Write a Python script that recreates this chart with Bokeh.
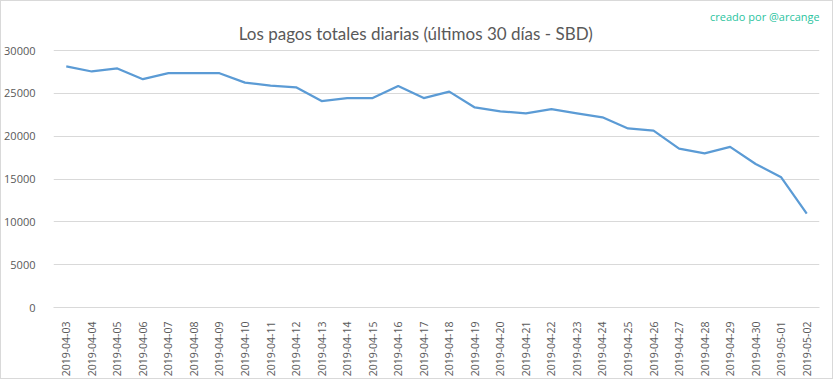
import math
from bokeh.plotting import figure
from bokeh.models import Range1d, FactorRange, FixedTicker, ColumnDataSource
from bokeh.core.properties import value
from bokeh.embed import file_html
from bokeh.resources import INLINE

dates = ["2019-04-03", "2019-04-04", "2019-04-05", "2019-04-06", "2019-04-07",
         "2019-04-08", "2019-04-09", "2019-04-10", "2019-04-11", "2019-04-12",
         "2019-04-13", "2019-04-14", "2019-04-15", "2019-04-16", "2019-04-17",
         "2019-04-18", "2019-04-19", "2019-04-20", "2019-04-21", "2019-04-22",
         "2019-04-23", "2019-04-24", "2019-04-25", "2019-04-26", "2019-04-27",
         "2019-04-28", "2019-04-29", "2019-04-30", "2019-05-01", "2019-05-02"]
payouts = [28150, 27550, 27900, 26650, 27350,
           27350, 27350, 26250, 25900, 25700,
           24100, 24450, 24450, 25850, 24450,
           25200, 23350, 22900, 22650, 23150,
           22650, 22200, 20900, 20650, 18550,
           18000, 18750, 16750, 15200, 10950]
y_ticks = [0, 5000, 10000, 15000, 20000, 25000, 30000]

title_text = "Los pagos totales diarias (últimos 30 días - SBD)"
credit_text = "creado por @arcange"

# layout (pixels): frame top, pixel row of the 30000 gridline, pixel row of 0
FRAME_TOP, TOP_TICK_PX, ZERO_PX, H = 2, 49, 306, 379
y_max = y_ticks[-1]
y_end = y_max * (ZERO_PX - FRAME_TOP) / (ZERO_PX - TOP_TICK_PX)

src = ColumnDataSource(dict(x=dates, y=payouts))

p = figure(width=833, height=H, output_backend="svg", toolbar_location=None,
           x_range=FactorRange(*dates, range_padding=0), y_range=Range1d(0, y_end),
           min_border_left=51, min_border_right=15, min_border_top=FRAME_TOP,
           min_border_bottom=H - ZERO_PX)
p.title = None
p.outline_line_color = None
p.background_fill_color = "white"
p.border_fill_color = "white"
p.styles = {"border": "1px solid #d9d9d9", "box-sizing": "border-box"}

p.line("x", "y", source=src, line_color="#5b9bd5", line_width=2.25, line_join="round")

p.yaxis.ticker = FixedTicker(ticks=y_ticks)
p.yaxis.axis_line_color = None
p.yaxis.major_tick_line_color = None
p.yaxis.minor_tick_line_color = None
p.yaxis.major_label_standoff = 12
p.yaxis.major_label_text_font = "Open Sans"
p.yaxis.major_label_text_font_size = "11px"
p.yaxis.major_label_text_color = "#595959"

p.xaxis.axis_line_color = "#d9d9d9"
p.xaxis.major_tick_line_color = None
p.xaxis.minor_tick_line_color = None
p.xaxis.major_label_orientation = math.pi / 2
p.xaxis.major_label_standoff = 8
p.xaxis.major_label_text_font = "Open Sans"
p.xaxis.major_label_text_font_size = "10.5px"
p.xaxis.major_label_text_color = "#595959"

p.xgrid.grid_line_color = None
p.ygrid.grid_line_color = "#d9d9d9"
p.ygrid.grid_line_width = 1

# chart title, centred on the chart
p.text(x=[dates[14]], y=[y_max], text=[title_text], x_offset=-8, y_offset=-17,
       text_align="center", text_baseline="middle",
       text_font=value("Lato"), text_font_size="17px", text_color="#595959")
# credit, top right
p.text(x=[dates[-1]], y=[y_max], text=[credit_text], x_offset=13, y_offset=-34,
       text_align="right", text_baseline="middle",
       text_font=value("Open Sans"), text_font_size="11px", text_color="#2bc4a0")

open("out.html", "w").write(file_html(p, INLINE))
